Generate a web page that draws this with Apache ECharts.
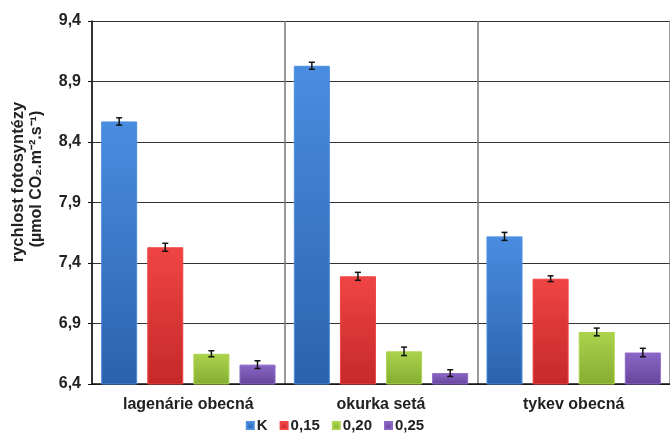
<!DOCTYPE html>
<html>
<head>
<meta charset="utf-8">
<script src="https://cdn.jsdelivr.net/npm/echarts@6/dist/echarts.min.js"></script>
<style>
  html, body { margin: 0; padding: 0; background: #fff; }
  #chart { width: 670px; height: 439px; }
</style>
</head>
<body>
<div id="chart"></div>
<script>
// Photosynthesis rate per species and treatment
const species = ['lagenárie obecná', 'okurka setá', 'tykev obecná'];
const treatments = ['K', '0,15', '0,20', '0,25'];

const rateK    = [8.57, 9.03, 7.62];
const rate015  = [7.53, 7.29, 7.27];
const rate020  = [6.65, 6.67, 6.83];
const rate025  = [6.56, 6.49, 6.66];

const errK    = [0.030, 0.029, 0.033];
const err015  = [0.033, 0.033, 0.024];
const err020  = [0.025, 0.035, 0.032];
const err025  = [0.032, 0.028, 0.035];

const yTicks = [6.4, 6.9, 7.4, 7.9, 8.4, 8.9, 9.4];

const values = [rateK, rate015, rate020, rate025];
const errors = [errK, err015, err020, err025];

const palette = [
  ['#4a8de0', '#2c62ac'],
  ['#f04444', '#c42929'],
  ['#acd34d', '#84ad32'],
  ['#8c67c8', '#664598']
];

const BAR_GAP = 0.28;      // gap between bars, fraction of bar width
const CAT_GAP = 0.095;     // gap between groups, fraction of band width

const font = 'Liberation Sans, Arial, sans-serif';

const chart = echarts.init(document.getElementById('chart'), null, { renderer: 'canvas' });

const barSeries = treatments.map((name, i) => ({
  name: name,
  type: 'bar',
  data: values[i],
  barGap: (BAR_GAP * 100) + '%',
  barCategoryGap: (CAT_GAP * 100) + '%',
  itemStyle: {
    color: new echarts.graphic.LinearGradient(0, 0, 0, 1, [
      { offset: 0, color: palette[i][0] },
      { offset: 1, color: palette[i][1] }
    ]),
    borderColor: palette[i][0],
    borderWidth: 1
  },
  emphasis: { disabled: true }
}));

// Error bars placed on top of each bar in the group
const errorSeries = treatments.map((name, i) => ({
  type: 'custom',
  name: name,
  z: 10,
  silent: true,
  data: values[i].map((v, c) => [c, v - errors[i][c], v + errors[i][c]]),
  renderItem: function (params, api) {
    const c = api.value(0);
    const lo = api.coord([c, api.value(1)]);
    const hi = api.coord([c, api.value(2)]);
    const band = api.size([1, 0])[0];
    const n = treatments.length;
    const used = band * (1 - CAT_GAP);
    const w = used / (n + (n - 1) * BAR_GAP);
    const x = lo[0] - used / 2 + w / 2 + i * w * (1 + BAR_GAP);
    const cap = 3;
    const style = { stroke: '#111', lineWidth: 1.5 };
    return {
      type: 'group',
      children: [
        { type: 'line', shape: { x1: x, y1: lo[1], x2: x, y2: hi[1] }, style: style },
        { type: 'line', shape: { x1: x - cap, y1: lo[1], x2: x + cap, y2: lo[1] }, style: style },
        { type: 'line', shape: { x1: x - cap, y1: hi[1], x2: x + cap, y2: hi[1] }, style: style }
      ]
    };
  }
}));

chart.setOption({
  animation: false,
  backgroundColor: '#ffffff',
  grid: { left: 92, right: 0, top: 21, bottom: 55 },
  legend: {
    data: treatments,
    bottom: 1,
    left: 'center',
    itemWidth: 7,
    itemHeight: 7,
    itemGap: 12,
    icon: 'rect',
    textStyle: { fontFamily: font, fontWeight: 'bold', fontSize: 15, color: '#222', padding: [0, 0, 0, -2] }
  },
  xAxis: {
    type: 'category',
    data: species,
    axisLine: { lineStyle: { color: '#111', width: 1.5 } },
    axisTick: { show: false },
    splitLine: { show: true, lineStyle: { color: '#7a7a7a', width: 1.5 } },
    axisLabel: { fontFamily: font, fontWeight: 'bold', fontSize: 16, color: '#222', margin: 13 }
  },
  yAxis: {
    type: 'value',
    min: yTicks[0],
    max: yTicks[yTicks.length - 1],
    interval: 0.5,
    axisLine: { show: true, lineStyle: { color: '#111', width: 1.5 } },
    axisTick: { show: true, inside: false, length: 4, lineStyle: { color: '#111' } },
    splitLine: { show: true, lineStyle: { color: '#333', width: 1.2 } },
    axisLabel: {
      fontFamily: font, fontWeight: 'bold', fontSize: 16, color: '#222', margin: 11,
      formatter: v => v.toFixed(1).replace('.', ',')
    }
  },
  graphic: [
    {
      type: 'text',
      x: 18, y: 182,
      rotation: Math.PI / 2,
      style: {
        text: 'rychlost fotosyntézy',
        fontFamily: font, fontWeight: 'bold', fontSize: 16.5, fill: '#222',
        align: 'center', verticalAlign: 'middle'
      }
    },
    {
      type: 'text',
      x: 37, y: 179,
      rotation: Math.PI / 2,
      style: {
        text: '(µmol CO₂.m⁻².s⁻¹)',
        fontFamily: font, fontWeight: 'bold', fontSize: 16, fill: '#222',
        align: 'center', verticalAlign: 'middle'
      }
    }
  ],
  series: barSeries.concat(errorSeries)
});
</script>
</body>
</html>
